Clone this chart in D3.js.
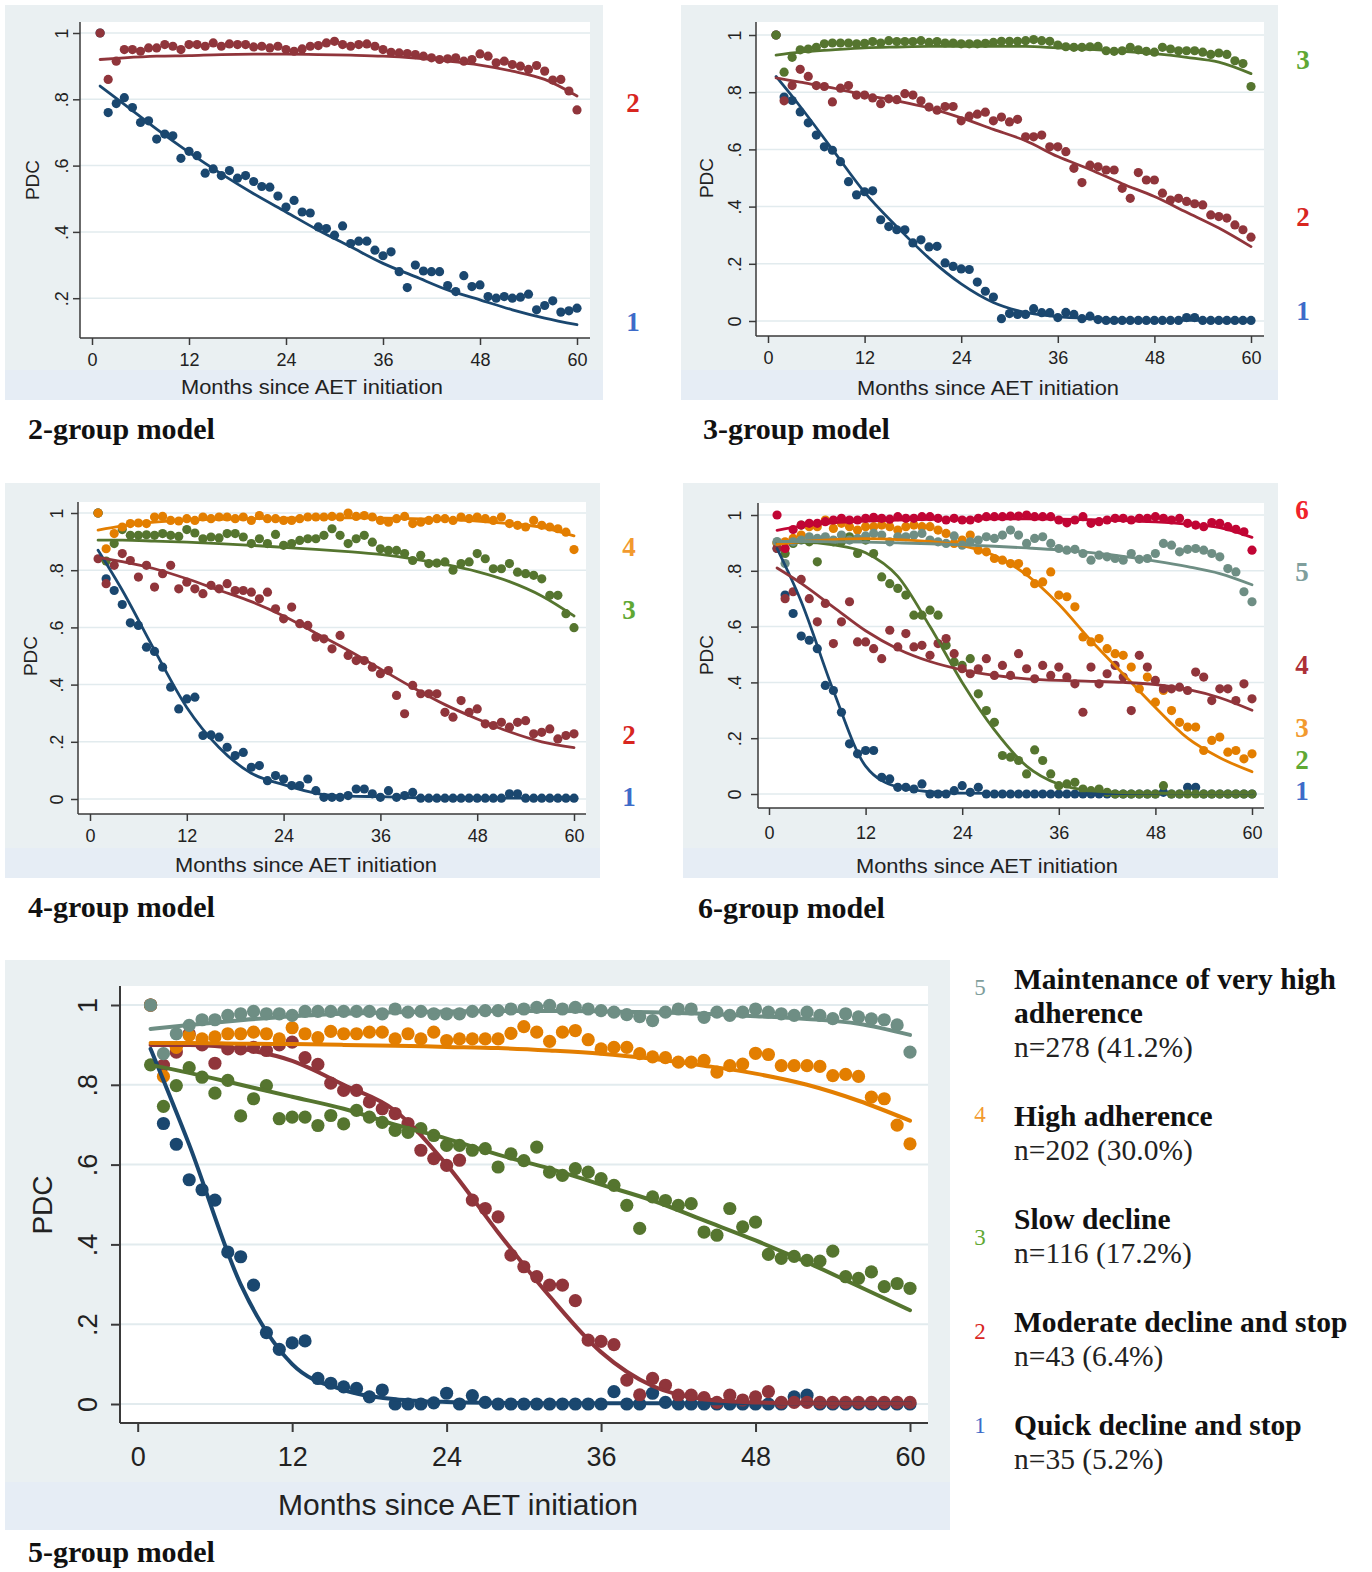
<!DOCTYPE html>
<html>
<head>
<meta charset="utf-8">
<script src="https://cdn.jsdelivr.net/npm/d3@7"></script>
<style>
  body { margin: 0; background: #fff; }
  svg { display: block; font-family: "Liberation Sans", Arial, sans-serif; }
</style>
</head>
<body>
<svg id="chart" width="1372" height="1572"></svg>
<script>
// ---- data (PDC by month) ----
const months = d3.range(1, 61);
const fitMonths = [1, 4, 8, 12, 16, 20, 24, 28, 32, 36, 40, 44, 48, 52, 56, 60];
const xTicks = [0, 12, 24, 36, 48, 60];
const yTicks = [0, 0.2, 0.4, 0.6, 0.8, 1];
const yTickLabels = ["0", ".2", ".4", ".6", ".8", "1"];

// 2-group model
const g2_1 = [1.0,.76,.787,.805,.775,.73,.735,.68,.695,.69, .622,.643,.63,.577,.59,.57,.585,.562,.57,.552,
  .537,.535,.508,.475,.495,.46,.457,.415,.41,.39, .418,.365,.372,.372,.345,.328,.34,.28,.232,.30,
  .282,.28,.28,.238,.22,.268,.235,.24,.205,.2, .205,.2,.203,.212,.165,.178,.192,.158,.162,.17];
const g2_2 = [1.0,.86,.915,.95,.95,.945,.955,.955,.965,.96, .95,.965,.965,.96,.97,.96,.967,.965,.965,.958,
  .96,.955,.96,.95,.945,.952,.96,.962,.97,.975, .965,.96,.965,.967,.96,.95,.942,.94,.938,.935,
  .93,.925,.92,.922,.925,.915,.92,.937,.93,.91, .915,.905,.9,.89,.902,.885,.858,.86,.825,.768];
const f2_1 = [.84,.785,.71,.64,.575,.515,.46,.405,.355,.305,.265,.225,.195,.165,.14,.12];
const f2_2 = [.92,.925,.93,.932,.935,.936,.936,.935,.933,.93,.924,.915,.903,.885,.86,.81];

// 3-group model
const g3_1 = [1.0,.783,.771,.731,.693,.65,.609,.597,.557,.487, .441,.452,.455,.354,.33,.319,.319,.273,.284,.259,
  .261,.203,.191,.182,.18,.136,.104,.084,.008,.026, .023,.023,.043,.029,.029,.012,.03,.023,.008,.017,
  .005,.002,.002,.002,.002,.002,.002,.002,.002,.002, .002,.012,.012,.002,.002,.002,.002,.002,.002,.002];
const g3_2 = [1.0,.77,.823,.88,.855,.823,.82,.766,.814,.823, .79,.79,.78,.76,.777,.774,.795,.79,.77,.748,
  .737,.75,.75,.70,.716,.723,.73,.70,.713,.696, .705,.644,.644,.65,.609,.609,.592,.534,.484,.545,
  .539,.528,.528,.464,.429,.519,.493,.493,.447,.423, .429,.418,.41,.406,.371,.365,.36,.336,.319,.293];
const g3_3 = [1.0,.87,.922,.948,.951,.957,.969,.972,.972,.972, .969,.971,.977,.972,.98,.977,.977,.977,.98,.974,
  .977,.972,.972,.969,.969,.969,.971,.974,.978,.978, .978,.98,.984,.98,.978,.965,.959,.957,.957,.959,
  .96,.945,.943,.945,.957,.948,.943,.94,.957,.951, .945,.945,.945,.94,.932,.937,.932,.91,.9,.82];
const f3_1 = [.855,.75,.6,.45,.33,.22,.13,.065,.03,.015,.008,.004,.002,.002,.002,.002];
const f3_2 = [.85,.835,.815,.79,.77,.745,.71,.67,.63,.575,.53,.48,.435,.38,.325,.26];
const f3_3 = [.93,.94,.948,.955,.958,.96,.96,.96,.96,.955,.95,.943,.935,.922,.905,.865];

// 4-group model
const g4_1 = [1.0,.77,.729,.68,.616,.607,.531,.516,.461,.391, .315,.35,.356,.222,.224,.216,.181,.152,.163,.111,
  .117,.064,.082,.07,.047,.047,.07,.029,.006,.006, .006,.012,.035,.035,.018,.006,.029,.006,.012,.023,
  .003,.003,.003,.003,.003,.003,.003,.003,.003,.003, .003,.018,.018,.003,.003,.003,.003,.003,.003,.003];
const g4_2 = [.84,.753,.817,.858,.834,.776,.817,.741,.788,.817, .735,.758,.735,.718,.747,.735,.753,.729,.729,.723,
  .70,.723,.665,.63,.671,.613,.607,.566,.56,.525, .572,.502,.484,.484,.461,.438,.449,.362,.298,.397,
  .368,.368,.368,.303,.286,.344,.303,.315,.263,.257, .268,.251,.268,.274,.228,.233,.245,.21,.222,.228];
const g4_3 = [1.0,.832,.893,.942,.922,.922,.924,.922,.928,.922, .918,.942,.93,.91,.916,.913,.928,.928,.916,.893,
  .91,.893,.925,.887,.893,.904,.91,.91,.922,.945, .922,.893,.91,.922,.898,.875,.869,.869,.858,.834,
  .852,.823,.825,.829,.80,.823,.829,.858,.84,.805, .805,.823,.793,.788,.782,.77,.712,.712,.648,.599];
const g4_4 = [1.0,.875,.928,.951,.963,.965,.963,.986,.988,.974, .972,.98,.974,.986,.98,.986,.986,.98,.986,.974,
  .991,.98,.98,.974,.974,.98,.986,.986,.986,.988, .986,1.0,.988,.991,.986,.974,.968,.98,.988,.963,
  .968,.974,.98,.98,.974,.986,.98,.986,.98,.974, .986,.963,.957,.951,.974,.957,.951,.945,.933,.872];
const f4_1 = [.87,.73,.52,.32,.18,.09,.05,.02,.01,.008,.005,.003,.003,.003,.003,.003];
const f4_2 = [.845,.83,.805,.77,.73,.69,.64,.58,.52,.455,.39,.33,.28,.235,.2,.18];
const f4_3 = [.905,.905,.902,.898,.893,.887,.88,.873,.865,.855,.84,.82,.795,.76,.71,.64];
const f4_4 = [.94,.955,.968,.975,.978,.98,.982,.983,.983,.982,.98,.977,.972,.963,.95,.92];

// 6-group model
const g6_1 = [.88,.713,.647,.566,.551,.521,.389,.371,.293,.18, .144,.156,.156,.06,.054,.024,.024,.018,.036,0,
  0,0,.012,.03,.006,.024,0,0,0,0, 0,0,0,0,0,0,0,0,0,0,
  0,0,0,0,0,0,0,0,.006,0, 0,.024,.024,0,0,0,0,0,0,0];
const g6_2 = [.9,.862,.898,.964,.904,.832,.91,.904,.904,.922, .862,.91,.862,.778,.754,.737,.713,.641,.641,.659,
  .641,.533,.473,.461,.485,.359,.299,.257,.138,.132, .12,.072,.158,.12,.072,.03,.036,.042,.018,.012,
  .018,.006,0,0,0,0,0,0,.03,0, 0,0,0,0,0,0,0,0,0,0];
const g6_3 = [.9,.904,.916,.928,.958,.958,.982,.952,.97,.958, .946,.958,.958,.964,.958,.946,.958,.964,.958,.958,
  .946,.934,.898,.91,.928,.874,.868,.844,.838,.826, .826,.796,.754,.76,.796,.713,.707,.671,.563,.545,
  .557,.521,.503,.497,.455,.377,.419,.329,.371,.299, .257,.24,.24,.156,.192,.204,.15,.156,.126,.144];
const g6_4 = [.88,.70,.725,.769,.70,.617,.683,.539,.617,.689, .545,.545,.521,.485,.587,.527,.575,.527,.533,.497,
  .539,.557,.503,.449,.431,.449,.485,.425,.461,.425, .503,.449,.413,.461,.425,.455,.419,.395,.293,.455,
  .395,.431,.461,.419,.299,.497,.455,.407,.377,.377, .383,.371,.437,.419,.335,.377,.377,.335,.395,.341];
const g6_5 = [.905,.826,.904,.91,.922,.916,.922,.91,.928,.91, .916,.925,.934,.928,.904,.922,.922,.928,.934,.91,
  .904,.898,.925,.892,.904,.91,.922,.916,.928,.946, .928,.898,.916,.922,.898,.88,.874,.877,.862,.838,
  .856,.85,.844,.838,.862,.841,.844,.862,.898,.892, .868,.877,.88,.874,.862,.85,.808,.796,.725,.689];
const g6_6 = [1.0,.88,.948,.964,.97,.97,.976,.982,.988,.982, .982,.988,.992,.988,.985,.994,.988,.988,.994,.994,
  .988,.982,.988,.982,.982,.988,.994,.994,.994,.996, .996,1.0,.994,.994,.994,.982,.972,.982,.994,.97,
  .976,.982,.988,.988,.982,.988,.988,.994,.988,.982, .988,.97,.964,.958,.973,.97,.958,.949,.94,.874];
const f6_1 = [.88,.69,.37,.1,.025,.008,.003,.002,.001,.001,.001,.001,.001,.001,.001,.001];
const f6_2 = [.9,.902,.893,.865,.78,.6,.4,.23,.1,.035,.012,.005,.003,.002,.002,.002];
const f6_3 = [.895,.905,.912,.915,.912,.905,.89,.855,.785,.68,.55,.43,.31,.2,.13,.08];
const f6_4 = [.81,.755,.67,.585,.52,.475,.445,.425,.413,.407,.404,.4,.392,.375,.345,.3];
const f6_5 = [.905,.905,.904,.903,.9,.897,.893,.888,.882,.875,.865,.852,.835,.815,.79,.75];
const f6_6 = [.945,.96,.972,.978,.982,.984,.985,.986,.986,.985,.983,.98,.975,.967,.955,.92];

// 5-group model
const g5_1 = [1.0,.703,.651,.562,.537,.511,.381,.369,.298,.179, .137,.153,.158,.064,.052,.043,.039,.018,.035,0,
  0,0,.003,.027,0,.021,.004,0,0,0, 0,0,0,0,0,0,.031,0,0,.027,
  .004,0,0,0,0,0,0,0,0,0, .018,.022,0,0,0,0,0,0,0,0];
const g5_2 = [1.0,.849,.882,.928,.9,.854,.89,.89,.894,.886, .9,.907,.868,.851,.804,.786,.786,.757,.74,.728,
  .703,.636,.615,.598,.611,.511,.49,.469,.373,.344, .319,.298,.298,.259,.16,.157,.149,.06,.023,.064,
  .047,.022,.022,.016,.004,.022,.01,.018,.031,.004, .004,.004,.004,.004,.004,.004,.004,.004,.004,.004];
const g5_3 = [.85,.746,.798,.843,.819,.779,.811,.722,.765,.798, .715,.719,.719,.698,.723,.702,.736,.719,.706,.686,
  .681,.69,.673,.648,.648,.636,.64,.594,.627,.61, .644,.581,.573,.59,.581,.565,.548,.498,.44,.519,
  .51,.498,.502,.431,.423,.49,.444,.456,.375,.365, .37,.36,.358,.383,.319,.315,.331,.294,.302,.29];
const g5_4 = [1.0,.821,.894,.924,.915,.92,.928,.928,.932,.928, .915,.943,.928,.918,.934,.928,.928,.932,.932,.915,
  .928,.915,.932,.911,.915,.915,.915,.915,.929,.946, .932,.909,.932,.936,.913,.89,.894,.894,.878,.87,
  .868,.857,.857,.861,.832,.848,.852,.879,.876,.848, .848,.848,.846,.823,.826,.821,.769,.765,.699,.652];
const g5_5 = [1.0,.878,.928,.949,.963,.963,.974,.978,.984,.978, .978,.974,.984,.984,.984,.984,.984,.984,.978,.99,
  .982,.984,.978,.978,.978,.984,.986,.986,.99,.99, .994,.999,.99,.994,.99,.986,.982,.976,.971,.961,
  .982,.99,.99,.969,.982,.974,.982,.99,.982,.978, .974,.982,.974,.966,.978,.97,.965,.963,.95,.882];
const f5_1 = [.89,.65,.3,.1,.035,.012,.005,.003,.002,.002,.002,.002,.002,.002,.002,.002];
const f5_2 = [.9,.9,.89,.86,.8,.735,.6,.43,.27,.13,.045,.012,.004,.002,.001,.001];
const f5_3 = [.85,.83,.8,.77,.74,.7,.665,.625,.59,.55,.51,.46,.41,.355,.295,.235];
const f5_4 = [.905,.905,.903,.902,.9,.898,.895,.892,.886,.878,.865,.848,.828,.8,.76,.71];
const f5_5 = [.94,.95,.962,.972,.978,.982,.984,.985,.985,.984,.982,.978,.972,.965,.953,.925];

const legendNames = ["Maintenance of very high|adherence", "High adherence", "Slow decline",
  "Moderate decline and stop", "Quick decline and stop"];
const legendCounts = ["n=278 (41.2%)", "n=202 (30.0%)", "n=116 (17.2%)", "n=43 (6.4%)", "n=35 (5.2%)"];
const legendGroups = ["5", "4", "3", "2", "1"];

// ---- styles ----
const NAVY = "#1a476f", MAROON = "#90353b", GREEN = "#55752f", ORANGE = "#e37e00",
  TEAL = "#6e8e84", CRIMSON = "#c10534";
const LBL = { blue: "#3d6bc9", red: "#d8261f", green: "#5fa834", orange: "#f29a2e", teal: "#7f9e9c", dkred: "#ad2f37", crimson: "#f0222a" };
const BG = "#eaf0f2", BAND = "#e6edf5", GRID = "#e2ebee", AXIS = "#3a3a3a", TXT = "#222";
const SERIF = "'Liberation Serif', 'Times New Roman', serif";

const small = { r: 4.6, lw: 2.8, tick: 7, tickFont: 18, titleFont: 21, titleLen: 262, pdcFont: 19, axisW: 1.5 };
const big = { r: 6.6, lw: 4, tick: 9, tickFont: 27, titleFont: 29, titleLen: 360, pdcFont: 28, axisW: 2 };

const panels = [
  { name: "2-group model", st: small, bg: [5, 5, 603, 400], band: 370, plot: [80, 22, 590, 338],
    x0: 92, x60: 577, y0: 364.5, y1: 33, xLabY: 366, xTitle: [312, 394], yLabX: 62, pdc: [32, 180], head: [28, 439],
    series: [{ d: g2_1, f: f2_1, c: NAVY }, { d: g2_2, f: f2_2, c: MAROON }],
    labels: [["2", LBL.red, 633, 103], ["1", LBL.blue, 633, 322]] },
  { name: "3-group model", st: small, bg: [681, 5, 1278, 400], band: 370, plot: [756, 22, 1264, 336],
    x0: 768, x60: 1251, y0: 321, y1: 35, xLabY: 364, xTitle: [988, 395], yLabX: 735, pdc: [706, 178], head: [703, 439],
    series: [{ d: g3_1, f: f3_1, c: NAVY }, { d: g3_2, f: f3_2, c: MAROON }, { d: g3_3, f: f3_3, c: GREEN }],
    labels: [["3", LBL.green, 1303, 60], ["2", LBL.red, 1303, 217], ["1", LBL.blue, 1303, 311]] },
  { name: "4-group model", st: small, bg: [5, 483, 600, 878], band: 848, plot: [78, 502, 586, 814],
    x0: 90, x60: 574, y0: 799, y1: 513, xLabY: 842, xTitle: [306, 872], yLabX: 57, pdc: [30, 656], head: [28, 917],
    series: [{ d: g4_1, f: f4_1, c: NAVY }, { d: g4_2, f: f4_2, c: MAROON }, { d: g4_3, f: f4_3, c: GREEN }, { d: g4_4, f: f4_4, c: ORANGE }],
    labels: [["4", LBL.orange, 629, 547], ["3", LBL.green, 629, 610], ["2", LBL.red, 629, 735], ["1", LBL.blue, 629, 797]] },
  { name: "6-group model", st: small, bg: [683, 483, 1278, 878], band: 848, plot: [758, 503, 1264, 808],
    x0: 769, x60: 1252, y0: 794, y1: 515, xLabY: 839, xTitle: [987, 873], yLabX: 735, pdc: [706, 655], head: [698, 918],
    series: [{ d: g6_1, f: f6_1, c: NAVY }, { d: g6_2, f: f6_2, c: GREEN }, { d: g6_3, f: f6_3, c: ORANGE },
      { d: g6_4, f: f6_4, c: MAROON }, { d: g6_5, f: f6_5, c: TEAL }, { d: g6_6, f: f6_6, c: CRIMSON }],
    labels: [["6", LBL.crimson, 1302, 510], ["5", LBL.teal, 1302, 572], ["4", LBL.dkred, 1302, 665],
      ["3", LBL.orange, 1302, 728], ["2", LBL.green, 1302, 760], ["1", LBL.blue, 1302, 791]] },
  { name: "5-group model", st: big, bg: [5, 960, 950, 1530], band: 1482, plot: [120, 986, 928, 1423],
    x0: 137.7, x60: 910, y0: 1404, y1: 1005, xLabY: 1466, xTitle: [458, 1515], yLabX: 88, pdc: [42, 1205], head: [28, 1562],
    series: [{ d: g5_1, f: f5_1, c: NAVY }, { d: g5_2, f: f5_2, c: MAROON }, { d: g5_3, f: f5_3, c: GREEN },
      { d: g5_4, f: f5_4, c: ORANGE }, { d: g5_5, f: f5_5, c: TEAL }],
    labels: [] }
];

const svg = d3.select("#chart");
svg.append("rect").attr("width", 1372).attr("height", 1572).attr("fill", "#fff");

function drawPanel(p) {
  const st = p.st;
  const g = svg.append("g");
  const [bx0, by0, bx1, by1] = p.bg;
  const [L, T, R, B] = p.plot;
  g.append("rect").attr("x", bx0).attr("y", by0).attr("width", bx1 - bx0).attr("height", by1 - by0).attr("fill", BG);
  g.append("rect").attr("x", bx0).attr("y", p.band).attr("width", bx1 - bx0).attr("height", by1 - p.band).attr("fill", BAND);
  g.append("rect").attr("x", L).attr("y", T).attr("width", R - L).attr("height", B - T).attr("fill", "#fff");

  const x = d3.scaleLinear().domain([0, 60]).range([p.x0, p.x60]);
  const y = d3.scaleLinear().domain([0, 1]).range([p.y0, p.y1]);
  const yt = yTicks.filter(v => y(v) < B - 3);

  // grid lines
  g.selectAll(".grid").data(yt).join("line")
    .attr("x1", L).attr("x2", R).attr("y1", d => y(d)).attr("y2", d => y(d))
    .attr("stroke", GRID).attr("stroke-width", st.axisW);

  // dots, then fitted lines
  p.series.forEach(s => {
    g.append("g").selectAll("circle").data(s.d).join("circle")
      .attr("cx", (d, i) => x(months[i])).attr("cy", d => y(d))
      .attr("r", st.r).attr("fill", s.c);
  });
  const line = d3.line().x((d, i) => x(fitMonths[i])).y(d => y(d)).curve(d3.curveMonotoneX);
  p.series.forEach(s => {
    g.append("path").attr("d", line(s.f)).attr("fill", "none")
      .attr("stroke", s.c).attr("stroke-width", st.lw).attr("stroke-linecap", "round");
  });

  // x axis
  const gx = g.append("g").attr("transform", `translate(0,${B})`)
    .call(d3.axisBottom(x).tickValues(xTicks).tickSize(st.tick));
  gx.select(".domain").remove();
  gx.selectAll("line").attr("stroke", AXIS).attr("stroke-width", st.axisW);
  gx.selectAll("text").attr("y", p.xLabY - B).attr("dy", null)
    .attr("font-size", st.tickFont).attr("fill", TXT);
  g.append("line").attr("x1", L).attr("x2", R).attr("y1", B).attr("y2", B)
    .attr("stroke", AXIS).attr("stroke-width", st.axisW);

  // y axis, rotated labels
  const gy = g.append("g").attr("transform", `translate(${L},0)`)
    .call(d3.axisLeft(y).tickValues(yt).tickFormat(d => yTickLabels[yTicks.indexOf(d)]).tickSize(st.tick));
  gy.select(".domain").remove();
  gy.selectAll("line").attr("stroke", AXIS).attr("stroke-width", st.axisW);
  gy.selectAll("text").attr("x", 0).attr("dy", ".35em").attr("text-anchor", "middle")
    .attr("transform", `translate(${p.yLabX - L},0) rotate(-90)`)
    .attr("font-size", st.tickFont).attr("fill", TXT);
  g.append("line").attr("x1", L).attr("x2", L).attr("y1", T).attr("y2", B)
    .attr("stroke", AXIS).attr("stroke-width", st.axisW);

  // axis titles
  g.append("text").attr("x", p.xTitle[0]).attr("y", p.xTitle[1]).attr("text-anchor", "middle")
    .attr("font-size", st.titleFont).attr("fill", TXT)
    .attr("textLength", st.titleLen).attr("lengthAdjust", "spacingAndGlyphs")
    .text("Months since AET initiation");
  g.append("text").attr("transform", `translate(${p.pdc[0]},${p.pdc[1]}) rotate(-90)`)
    .attr("text-anchor", "middle").attr("dy", ".35em")
    .attr("font-size", st.pdcFont).attr("fill", TXT).text("PDC");

  // group numbers at right
  g.selectAll(".grp").data(p.labels).join("text")
    .attr("x", d => d[2]).attr("y", d => d[3]).attr("dy", ".35em").attr("text-anchor", "middle")
    .attr("font-family", SERIF).attr("font-size", 27).attr("font-weight", "bold")
    .attr("fill", d => d[1]).text(d => d[0]);

  // panel heading
  svg.append("text").attr("x", p.head[0]).attr("y", p.head[1])
    .attr("font-family", SERIF)
    .attr("font-weight", "bold").attr("font-size", 30).attr("fill", "#111").text(p.name);
}

panels.forEach(drawPanel);

// legend for 5-group model
const legendColors = [LBL.teal, LBL.orange, LBL.green, LBL.red, LBL.blue];
const legendNumY = [987, 1114, 1237, 1331, 1425];
const legendTopY = [979, 1116, 1219, 1322, 1425];
const lg = svg.append("g").attr("font-family", SERIF);
legendGroups.forEach((n, i) => {
  lg.append("text").attr("x", 980).attr("y", legendNumY[i]).attr("dy", ".35em")
    .attr("text-anchor", "middle").attr("font-size", 23).attr("fill", legendColors[i]).text(n);
  const lines = legendNames[i].split("|");
  lines.forEach((t, j) => {
    lg.append("text").attr("x", 1014).attr("y", legendTopY[i] + j * 34).attr("dy", ".35em")
      .attr("font-size", 29.5).attr("font-weight", "bold").attr("fill", "#111").text(t);
  });
  lg.append("text").attr("x", 1014).attr("y", legendTopY[i] + lines.length * 34).attr("dy", ".35em")
    .attr("font-size", 29.5).attr("fill", "#222").text(legendCounts[i]);
});
</script>
</body>
</html>
